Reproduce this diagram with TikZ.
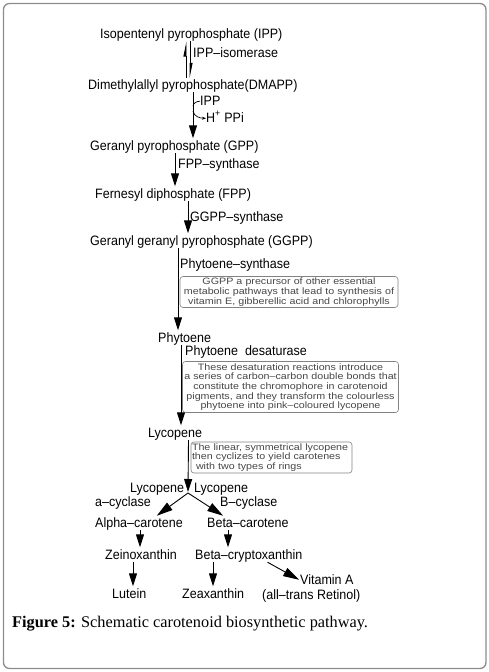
\documentclass[tikz,border=0pt]{standalone}
\usepackage{fontspec}
\setmainfont{Liberation Serif}
\newfontfamily\chemfont[FakeStretch=0.92]{Liberation Sans}
\newfontfamily\notefont[FakeStretch=1.15]{Liberation Sans}
\usetikzlibrary{arrows.meta,positioning,calc}
\definecolor{framegray}{RGB}{140,140,140}
\definecolor{notegray}{RGB}{70,70,70}
\definecolor{boxgray}{RGB}{130,130,130}

\tikzset{
  chem/.style={font=\chemfont\fontsize{13.6}{16}\selectfont, inner sep=0pt, text height=10.5pt, text depth=3pt, anchor=base west},
  flow/.style={line width=0.9pt, -{Triangle[length=13pt,width=8pt]}, shorten >=1pt},
  bigflow/.style={flow, -{Triangle[length=16pt,width=9pt]}},
  harp/.style={line width=0.9pt, -{Triangle[harpoon,length=13pt,width=5pt]}},
  notebox/.style={draw=boxgray, rounded corners=3pt, line width=0.6pt, inner sep=1pt, align=center,
    font=\notefont\fontsize{9.3}{9.7}\selectfont, text=notegray},
}

\begin{document}
\begin{tikzpicture}[x=1pt,y=-1pt]
  \useasboundingbox (0,0) rectangle (489,672);
  \draw[framegray,line width=1.3pt,rounded corners=6pt] (3.5,3.5) rectangle (486,668.5);

  % precursors
  \node[chem] (ipp)   at (100,38)  {Isopentenyl pyrophosphate (IPP)};
  \node[chem] (dmapp) at (88,89)   {Dimethylallyl pyrophosphate(DMAPP)};
  \node[chem] (gpp)   at (90,150)  {Geranyl pyrophosphate (GPP)};
  \node[chem] (fpp)   at (95,198)  {Fernesyl diphosphate (FPP)};
  \node[chem] (ggpp)  at (90,245)  {Geranyl geranyl pyrophosphate (GGPP)};
  \node[chem] (phytoene) at (158,342) {Phytoene};
  \node[chem] (lycopene) at (148,437) {Lycopene};

  % enzymes
  \node[chem] (isom)    at (193,57)  {IPP\textendash isomerase};
  \node[chem] (ippin)   at (200,105) {IPP};
  \node[chem] (ppi)     at (206,122) {H\textsuperscript{+} PPi};
  \node[chem] (fppsyn)  at (178,168) {FPP\textendash synthase};
  \node[chem] (ggppsyn) at (190,221) {GGPP\textendash synthase};
  \node[chem] (physyn)  at (180,268) {Phytoene\textendash synthase};
  \node[chem] (desat)   at (185,355) {Phytoene \ desaturase};

  % notes
  \node[notebox, text width=216pt, minimum height=31pt] (gbox) at (289,292)
    {GGPP a precursor of other essential\\ metabolic pathways that lead to synthesis of\\ vitamin E, gibberellic acid and chlorophylls};
  \node[notebox, text width=214pt, minimum height=51pt] (dbox) at (290.5,387)
    {These desaturation reactions introduce\\ a series of carbon\textendash carbon double bonds that\\ constitute the chromophore in carotenoid\\ pigments, and they transform the colourless\\ phytoene into pink\textendash coloured lycopene};
  \node[notebox, text width=159pt, minimum height=31pt, align=left] (lbox) at (271.5,457.5)
    {The linear, symmetrical lycopene\\ then cyclizes to yield carotenes\\ \hspace*{4pt}with two types of rings};

  % cyclisation and products
  \node[chem] (lycA)    at (130,492) {Lycopene};
  \node[chem] (cycA)    at (95,506)  {a\textendash cyclase};
  \node[chem] (lycB)    at (194,492) {Lycopene};
  \node[chem] (cycB)    at (220,506) {B\textendash cyclase};
  \node[chem] (alpha)   at (95,527)  {Alpha\textendash carotene};
  \node[chem] (beta)    at (207,527) {Beta\textendash carotene};
  \node[chem] (zein)    at (105,559) {Zeinoxanthin};
  \node[chem] (crypto)  at (195,559) {Beta\textendash cryptoxanthin};
  \node[chem] (lutein)  at (112,598) {Lutein};
  \node[chem] (zeax)    at (182,598) {Zeaxanthin};
  \node[chem] (vitA)    at (300,584) {Vitamin A};
  \node[chem] (retinol) at (262,599) {(all\textendash trans Retinol)};

  % spine positions
  \coordinate (eqL) at (186,0);
  \coordinate (eqR) at (190,0);
  \coordinate (s1) at (193,0);
  \coordinate (s2) at (175,0);
  \coordinate (s3) at (188,0);
  \coordinate (s4) at (178,0);
  \coordinate (s5) at (181,0);
  \coordinate (s6) at (188.5,0);
  \coordinate (jIn) at (193,106);
  \coordinate (jOut) at (193,111);
  \coordinate (br) at (188,493);

  % connectors
  \draw[harp] (dmapp.north -| eqL) -- (ipp.south -| eqL);
  \draw[harp] (ipp.south -| eqR) -- (dmapp.north -| eqR);
  \draw[flow] (dmapp.south -| s1) -- (gpp.north -| s1);
  \draw[line width=0.7pt] (ippin.west) to[out=180,in=80] (jIn);
  \draw[line width=0.7pt,-{Stealth[length=4pt,width=3pt]}] (jOut) to[out=-80,in=180] (ppi.west);
  \draw[flow] (gpp.south -| s2) -- (fpp.north -| s2);
  \draw[flow] (fpp.south -| s3) -- (ggpp.north -| s3);
  \draw[flow] (ggpp.south -| s4) -- (phytoene.north -| s4);
  \draw[flow] (phytoene.south -| s5) -- (lycopene.north -| s5);
  \draw[flow] (lycopene.south -| s6) -- (br);
  \draw[bigflow] (br) -- (alpha.north -| 156,0);
  \draw[bigflow] (br) -- (beta.north -| 224,0);
  \draw[flow] (alpha.south -| 140,0) -- (zein.north -| 140,0);
  \draw[flow] (beta.south -| 228,0) -- (crypto.north -| 228,0);
  \draw[flow] (zein.south -| 133,0) -- (lutein.north -| 133,0);
  \draw[flow] (crypto.south -| 213,0) -- (zeax.north -| 213,0);
  \draw[bigflow] ([xshift=-35pt]crypto.south east) -- (vitA.west);

  % caption
  \node[font=\fontsize{16.3}{18}\selectfont, anchor=base west, inner sep=0pt] (caption) at (12,627)
    {\textbf{Figure 5:} Schematic carotenoid biosynthetic pathway.};
\end{tikzpicture}
\end{document}
